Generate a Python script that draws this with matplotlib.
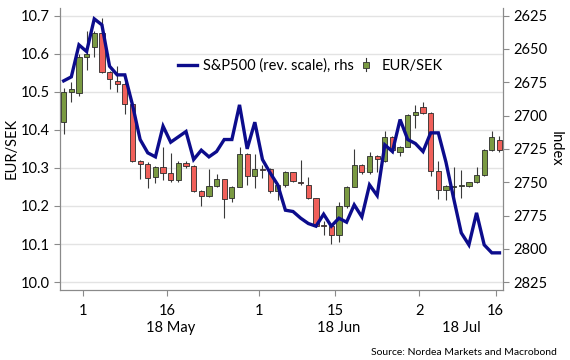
import numpy as np
import pandas as pd
import matplotlib
matplotlib.use('Agg')
import matplotlib.pyplot as plt
from matplotlib.legend_handler import HandlerBase
from matplotlib.lines import Line2D
from matplotlib.patches import Rectangle
import matplotlib.transforms as mtransforms

plt.rcParams['font.family'] = ['Lato', 'DejaVu Sans']

# business days shown on the x axis
dates = pd.bdate_range('2018-04-26', '2018-07-16')

# EUR/SEK daily candles
eur_open = [10.420, 10.499, 10.497, 10.591, 10.618, 10.654, 10.553, 10.529, 10.520, 10.468,
            10.319, 10.310, 10.276, 10.303, 10.286, 10.267, 10.313, 10.305, 10.240, 10.227,
            10.253, 10.270, 10.222, 10.251, 10.336, 10.279, 10.297, 10.297, 10.240, 10.255,
            10.288, 10.264, 10.255, 10.220, 10.150, 10.147, 10.124, 10.200, 10.251, 10.308,
            10.288, 10.332, 10.317, 10.382, 10.343, 10.356, 10.439, 10.459, 10.444, 10.292,
            10.242, 10.251, 10.253, 10.253, 10.262, 10.282, 10.347, 10.374]
eur_close = [10.499, 10.507, 10.591, 10.600, 10.654, 10.553, 10.534, 10.520, 10.468, 10.319,
             10.310, 10.274, 10.303, 10.286, 10.267, 10.314, 10.305, 10.240, 10.227, 10.253,
             10.270, 10.218, 10.251, 10.336, 10.279, 10.297, 10.295, 10.240, 10.255, 10.288,
             10.266, 10.260, 10.220, 10.148, 10.148, 10.124, 10.200, 10.251, 10.308, 10.288,
             10.332, 10.324, 10.382, 10.347, 10.356, 10.439, 10.448, 10.444, 10.292, 10.242,
             10.253, 10.253, 10.255, 10.262, 10.282, 10.347, 10.381, 10.346]
eur_high = [10.510, 10.526, 10.600, 10.659, 10.660, 10.694, 10.555, 10.567, 10.525, 10.470,
            10.322, 10.315, 10.305, 10.356, 10.339, 10.317, 10.318, 10.308, 10.242, 10.297,
            10.283, 10.272, 10.253, 10.356, 10.338, 10.336, 10.308, 10.299, 10.258, 10.292,
            10.290, 10.320, 10.277, 10.222, 10.160, 10.149, 10.211, 10.253, 10.349, 10.310,
            10.343, 10.334, 10.396, 10.385, 10.358, 10.441, 10.466, 10.474, 10.446, 10.317,
            10.255, 10.303, 10.295, 10.264, 10.303, 10.349, 10.396, 10.385]
eur_low = [10.389, 10.473, 10.490, 10.558, 10.591, 10.550, 10.508, 10.500, 10.441, 10.315,
           10.271, 10.248, 10.261, 10.268, 10.262, 10.262, 10.300, 10.238, 10.201, 10.224,
           10.250, 10.168, 10.210, 10.249, 10.255, 10.247, 10.273, 10.235, 10.216, 10.250,
           10.262, 10.255, 10.218, 10.145, 10.124, 10.099, 10.106, 10.195, 10.249, 10.285,
           10.285, 10.290, 10.315, 10.340, 10.330, 10.354, 10.404, 10.442, 10.280, 10.218,
           10.216, 10.211, 10.222, 10.250, 10.260, 10.280, 10.345, 10.343]

# S&P 500 close (plotted on reversed right axis)
spx = [2674, 2671, 2647, 2652, 2627.5, 2632, 2663, 2669.5, 2669.5, 2692,
       2718, 2728, 2731, 2708, 2720, 2716, 2712, 2733, 2726, 2731,
       2727, 2718, 2718, 2692, 2725, 2705, 2733, 2743, 2752, 2771,
       2772, 2777, 2781, 2783, 2774, 2783, 2777, 2780, 2767, 2776,
       2752, 2760, 2722, 2727, 2703, 2718, 2721, 2727, 2713, 2713,
       2735, 2762, 2788, 2797, 2773, 2797, 2803, 2803]

tick_dates = ['2018-05-01', '2018-05-16', '2018-06-01', '2018-06-15', '2018-07-02', '2018-07-16']
tick_labels = ['1', '16', '1', '15', '2', '16']
months = ['18 May', '18 Jun', '18 Jul']
month_start = ['2018-05-01', '2018-06-01', '2018-07-02']

GREEN = '#7a9a42'
RED = '#f0605a'
NAVY = '#0c0c8c'
GRID = '#e3e3e3'
AXC = '#8a8a8a'


class CandleHandler(HandlerBase):
    def create_artists(self, legend, orig_handle, xdescent, ydescent, width, height, fontsize, trans):
        cx = width / 2 - xdescent
        wick = Line2D([cx, cx], [-ydescent - 1, height + 1], color='#333333', lw=0.8, transform=trans)
        body = Rectangle((cx - 2.2, height * 0.2), 4.4, height * 0.55, facecolor=GREEN,
                         edgecolor='#333333', lw=0.6, transform=trans)
        return [wick, body]


fig = plt.figure(figsize=(5.7, 3.6), dpi=100)
ax = fig.add_axes([0.105, 0.195, 0.778, 0.783])
x = np.arange(len(dates))
o = np.array(eur_open)
c = np.array(eur_close)
up = c >= o
bottom = np.minimum(o, c)
height = np.maximum(np.abs(c - o), 0.002)

ax.vlines(x, eur_low, eur_high, color='#3a3a3a', lw=0.8, zorder=2)
ax.bar(x, height, bottom=bottom, width=0.68, color=np.where(up, GREEN, RED),
       edgecolor='#2a2a2a', linewidth=0.6, zorder=3)

ax.set_xlim(-0.5, len(dates) - 0.5)
ax.set_ylim(9.98, 10.72)
ax.set_yticks(np.arange(10.0, 10.71, 0.1))
ax.set_yticklabels([f'{v:.1f}' for v in np.arange(10.0, 10.71, 0.1)])
ax.grid(axis='y', color=GRID, lw=1.0, zorder=0)
ax.set_axisbelow(True)

pos = [dates.get_loc(pd.Timestamp(d)) - 0.5 for d in tick_dates]
ax.set_xticks(pos)
ax.set_xticklabels(tick_labels)
ax.tick_params(axis='x', length=4, color=AXC, labelsize=10.5, pad=6)
ax.tick_params(axis='y', length=4, color=AXC, labelsize=10.5, pad=3)
for s in ['left', 'bottom', 'right']:
    ax.spines[s].set_color(AXC)
ax.spines['top'].set_visible(False)
ax.set_ylabel('EUR/SEK', fontsize=10.5, labelpad=2)

# month labels under day ticks
bounds = [dates.get_loc(pd.Timestamp(d)) - 0.5 for d in month_start] + [len(dates) - 0.5]
trans = mtransforms.blended_transform_factory(ax.transData, ax.transAxes)
for i, m in enumerate(months):
    ax.text((bounds[i] + bounds[i + 1]) / 2, -0.135, m, transform=trans,
            ha='center', va='center', fontsize=10.5)

ax2 = ax.twinx()
def to_spx(v):
    return 2825 - (v - 10.0) * 200 / 0.7
ax2.set_ylim(to_spx(9.98), to_spx(10.72))
ax2.set_yticks(np.arange(2625, 2826, 25))
ax2.tick_params(axis='y', length=4, color=AXC, labelsize=10.5, pad=3)
ax2.plot(x, spx, color=NAVY, lw=2.4, zorder=5, solid_joinstyle='miter')
for s in ['left', 'bottom', 'right']:
    ax2.spines[s].set_color(AXC)
ax2.spines['top'].set_visible(False)
ax2.set_ylabel('Index', fontsize=10.5, rotation=270, labelpad=11)

h1 = Line2D([], [], color=NAVY, lw=2.4)
h2 = Rectangle((0, 0), 1, 1)
ax.legend([h1, h2], ['S&P500 (rev. scale), rhs', 'EUR/SEK'], loc='center',
          bbox_to_anchor=(0.565, 0.795), ncol=2, frameon=False, fontsize=10.5,
          handlelength=1.3, handletextpad=0.4, columnspacing=0.2,
          handler_map={Rectangle: CandleHandler()})

fig.text(0.977, 0.022, 'Source: Nordea Markets and Macrobond', ha='right', va='center',
         fontsize=7.5)

fig.savefig('out.png', dpi=100)
